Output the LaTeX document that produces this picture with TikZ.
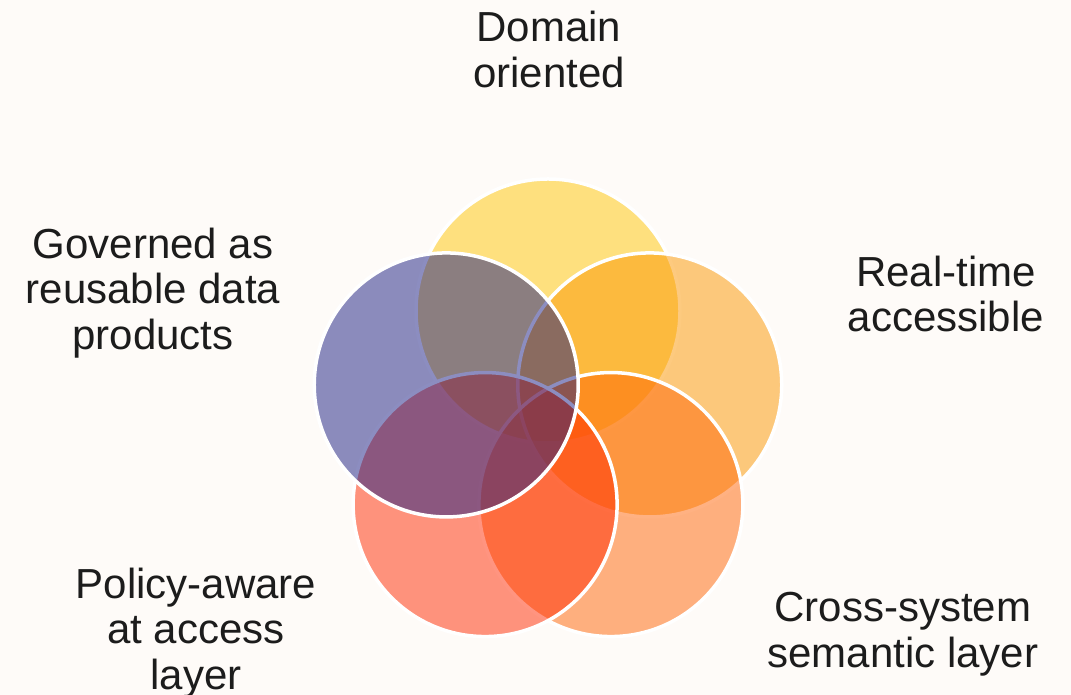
\documentclass[tikz,border=0pt]{standalone}
\usepackage{fontspec}
\setmainfont{Liberation Sans}
\usepackage{tikz}
\usetikzlibrary{shapes,calc}
\definecolor{bgcream}{HTML}{FEFBF8}
\definecolor{petalyellow}{HTML}{FFC606}
\definecolor{petalamber}{HTML}{FC9600}
\definecolor{petalorange}{HTML}{FF6506}
\definecolor{petalred}{HTML}{FF2B02}
\definecolor{petalnavy}{HTML}{1A1D82}
\definecolor{labelgrey}{HTML}{1C1C1C}
\tikzstyle{petal}=[circle,draw=white,line width=1.75pt,fill opacity=0.5,minimum size=132pt,inner sep=0pt]
\tikzstyle{caption}=[align=center,inner sep=0pt,text=labelgrey,font=\fontsize{21}{22.75}\selectfont]

\begin{document}
\begin{tikzpicture}[x=0.5pt,y=0.5pt]
    % Background and size of the page
    \fill[bgcream] (0,0) rectangle (1071,695);
    \useasboundingbox (0,0) rectangle (1071,695);
    \coordinate (hub) at (548,277);
    % First we draw the petals
    \foreach \ang/\col/\name in {90/petalyellow/domain, 18/petalamber/realtime, -54/petalorange/semantic, -126/petalred/policy, 162/petalnavy/governed}
        \node[petal,fill=\col] (\name) at ($(hub)+(\ang:107)$) {};
    % Then the captions
    \node[caption] (domaintext) at (549,645.5) {Domain\\oriented};
    \node[caption] (realtimetext) at (946,401) {Real-time\\accessible};
    \node[caption] (semantictext) at (903,61) {Cross-system\\semantic layer};
    \node[caption] (policytext) at (196,62) {Policy-aware\\at access\\layer};
    \node[caption] (governedtext) at (153,402) {Governed as\\reusable data\\products};
\end{tikzpicture}
\end{document}
